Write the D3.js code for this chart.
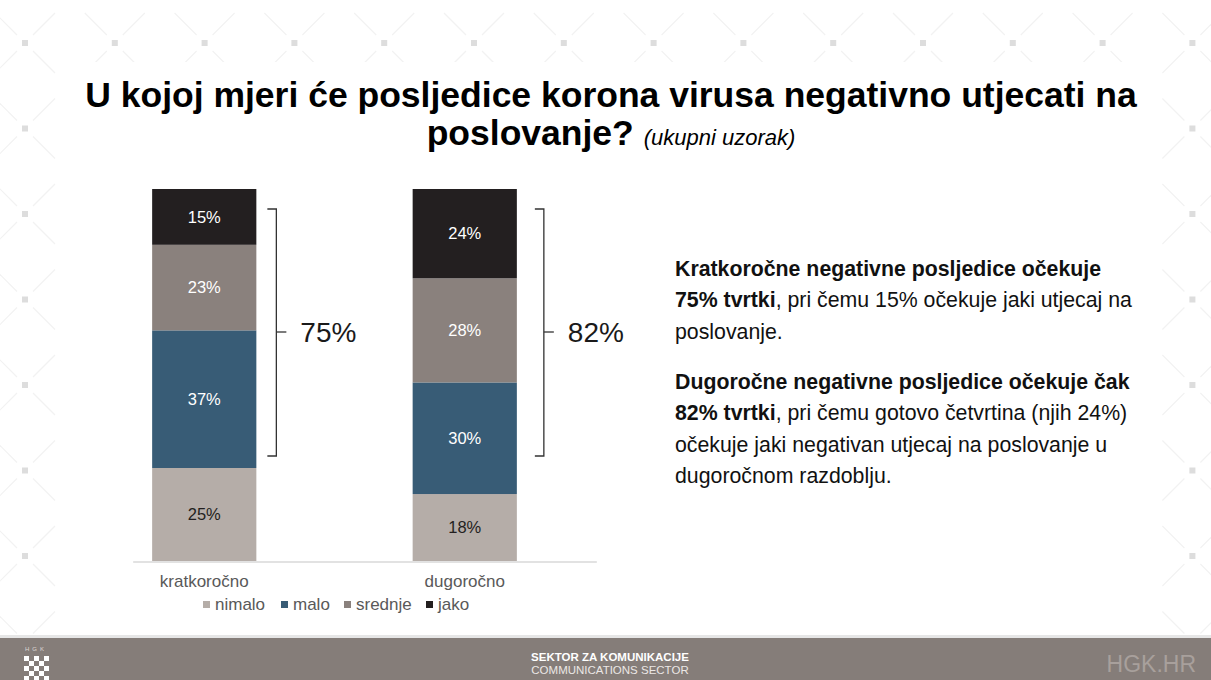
<!DOCTYPE html>
<html>
<head>
<meta charset="utf-8">
<script src="https://cdn.jsdelivr.net/npm/d3@7"></script>
<style>
  html, body { margin: 0; padding: 0; background: #ffffff; }
  svg { display: block; font-family: "Liberation Sans", Arial, sans-serif; }
</style>
</head>
<body>
<svg id="chart" width="1211" height="680"></svg>
<script>
// ---- data ----
const categories = ["kratkoročno", "dugoročno"];
const seriesNames = ["nimalo", "malo", "srednje", "jako"];
const nimalo = [25, 18];
const malo = [37, 30];
const srednje = [23, 28];
const jako = [15, 24];
const totalLabels = ["75%", "82%"];
const seriesColors = ["#b5ada8", "#385c76", "#8a817d", "#231f20"];
const labelColors = ["#231f20", "#ffffff", "#ffffff", "#ffffff"];

const titleLine1 = "U kojoj mjeri će posljedice korona virusa negativno utjecati na";
const titleLine2a = "poslovanje?";
const titleLine2b = "(ukupni uzorak)";

const svg = d3.select("#chart");
const W = 1211, H = 680;

// ---- background pattern ----
const bg = svg.append("g");
const gx = d3.range(0, 14).map(i => 25 + i * 89.8);
const gy = d3.range(0, 8).map(i => 43 + i * 85.5);
const pts = [];
gx.forEach(x => gy.forEach(y => {
  if (y < 60 || x < 60 || x > 1150) pts.push([x, y]);
}));
pts.forEach(([x, y]) => {
  [[1, 1], [1, -1], [-1, 1], [-1, -1]].forEach(([sx, sy]) => {
    bg.append("line")
      .attr("x1", x + sx * 8).attr("y1", y + sy * 8)
      .attr("x2", x + sx * 30).attr("y2", y + sy * 30)
      .attr("stroke", "#f2f2f2").attr("stroke-width", 1.2);
  });
  bg.append("rect").attr("x", x - 3).attr("y", y - 3).attr("width", 6).attr("height", 6)
    .attr("fill", "#dddddd");
});
bg.append("rect").attr("x", 60).attr("y", 62).attr("width", 1090).attr("height", 570).attr("fill", "#ffffff");

// ---- title ----
svg.append("text")
  .attr("x", 611).attr("y", 107)
  .attr("text-anchor", "middle")
  .attr("font-size", 35.5).attr("font-weight", "bold").attr("fill", "#000")
  .text(titleLine1);
const t2 = svg.append("text")
  .attr("x", 611).attr("y", 145)
  .attr("text-anchor", "middle").attr("fill", "#000");
t2.append("tspan").attr("font-size", 35.5).attr("font-weight", "bold").text(titleLine2a + " ");
t2.append("tspan").attr("font-size", 22).attr("font-style", "italic").text(titleLine2b);

// ---- scales ----
const x = d3.scaleBand().domain(categories).range([74, 595]).paddingInner(0.6).paddingOuter(0.3);
const y = d3.scaleLinear().domain([0, 100]).range([561, 189]);

const table = categories.map((c, i) => ({
  cat: c, nimalo: nimalo[i], malo: malo[i], srednje: srednje[i], jako: jako[i]
}));
const stack = d3.stack().keys(seriesNames)(table);

// baseline
svg.append("line")
  .attr("x1", x(categories[0]) - 19).attr("x2", x(categories[1]) + x.bandwidth() + 80)
  .attr("y1", y(0) + 1).attr("y2", y(0) + 1)
  .attr("stroke", "#d9d9d9").attr("stroke-width", 1.5);

const layers = svg.append("g").selectAll("g").data(stack).join("g")
  .attr("fill", (d, i) => seriesColors[i]);
layers.selectAll("rect").data(d => d).join("rect")
  .attr("x", d => x(d.data.cat))
  .attr("width", x.bandwidth())
  .attr("y", d => y(d[1]))
  .attr("height", d => y(d[0]) - y(d[1]));

// segment labels
stack.forEach((layer, li) => {
  svg.append("g").selectAll("text").data(layer).join("text")
    .attr("x", d => x(d.data.cat) + x.bandwidth() / 2)
    .attr("y", d => (y(d[0]) + y(d[1])) / 2)
    .attr("dy", "0.35em")
    .attr("text-anchor", "middle")
    .attr("font-size", 16.5)
    .attr("fill", labelColors[li])
    .text(d => (d[1] - d[0]) + "%");
});

// category labels
svg.append("g").selectAll("text").data(categories).join("text")
  .attr("x", d => x(d) + x.bandwidth() / 2)
  .attr("y", 587)
  .attr("text-anchor", "middle")
  .attr("font-size", 17).attr("fill", "#595959")
  .text(d => d);

// ---- brackets ----
const brackets = categories.map((c, i) => ({ cat: c, label: totalLabels[i] }));
brackets.forEach((b, i) => {
  const bx = x(b.cat) + x.bandwidth() + (i === 0 ? 20 : 27);
  const top = y(100) + 20, bot = 456, mid = 332;
  const g = svg.append("g");
  g.append("path")
    .attr("d", `M${bx - 9},${top} L${bx},${top} L${bx},${bot} L${bx - 9},${bot}`)
    .attr("fill", "none").attr("stroke", "#333").attr("stroke-width", 1.3);
  g.append("line").attr("x1", bx).attr("x2", bx + 10).attr("y1", mid).attr("y2", mid)
    .attr("stroke", "#333").attr("stroke-width", 1.3);
  g.append("text").attr("x", bx + 24).attr("y", mid).attr("dy", "0.35em")
    .attr("font-size", 28).attr("fill", "#1a1a1a").text(b.label);
});

// ---- legend ----
const legendX = [203, 281, 344, 426];
const lg = svg.append("g");
seriesNames.forEach((s, i) => {
  lg.append("rect").attr("x", legendX[i]).attr("y", 601).attr("width", 7).attr("height", 7)
    .attr("fill", seriesColors[i]);
  lg.append("text").attr("x", legendX[i] + 12).attr("y", 610)
    .attr("font-size", 17).attr("fill", "#595959").text(s);
});

// ---- right text ----
const para = [
  { y: 276, parts: [["Kratkoročne negativne posljedice očekuje", true]] },
  { y: 307, parts: [["75% tvrtki", true], [", pri čemu 15% očekuje jaki utjecaj na", false]] },
  { y: 339, parts: [["poslovanje.", false]] },
  { y: 389, parts: [["Dugoročne negativne posljedice očekuje čak", true]] },
  { y: 420, parts: [["82% tvrtki", true], [", pri čemu gotovo četvrtina (njih 24%)", false]] },
  { y: 452, parts: [["očekuje jaki negativan utjecaj na poslovanje u", false]] },
  { y: 483, parts: [["dugoročnom razdoblju.", false]] }
];
para.forEach(line => {
  const t = svg.append("text").attr("x", 675).attr("y", line.y)
    .attr("font-size", 21.3).attr("fill", "#111");
  line.parts.forEach(([s, b]) => {
    t.append("tspan").attr("font-weight", b ? "bold" : "normal").text(s);
  });
});

// ---- footer ----
svg.append("rect").attr("x", 0).attr("y", 635).attr("width", W).attr("height", 3).attr("fill", "#e6e6e6");
svg.append("rect").attr("x", 0).attr("y", 638).attr("width", W).attr("height", 42).attr("fill", "#857d79");
svg.append("text").attr("x", 610).attr("y", 661).attr("text-anchor", "middle")
  .attr("font-size", 11.5).attr("font-weight", "bold").attr("fill", "#ffffff")
  .text("SEKTOR ZA KOMUNIKACIJE");
svg.append("text").attr("x", 610).attr("y", 674).attr("text-anchor", "middle")
  .attr("font-size", 11.5).attr("fill", "#ebe7e5")
  .text("COMMUNICATIONS SECTOR");
svg.append("text").attr("x", 1196).attr("y", 672).attr("text-anchor", "end")
  .attr("font-size", 23).attr("fill", "#a8a09c")
  .text("HGK.HR");
// logo
const logo = svg.append("g");
logo.append("text").attr("x", 36).attr("y", 651).attr("text-anchor", "middle")
  .attr("font-size", 6).attr("fill", "#ddd8d5").attr("letter-spacing", 3).text("HGK");
for (let r = 0; r < 5; r++) {
  for (let c = 0; c < 5; c++) {
    if ((r + c) % 2 === 0) {
      logo.append("rect").attr("x", 24 + c * 5).attr("y", 656 + r * 5).attr("width", 5).attr("height", 5)
        .attr("fill", "#ffffff");
    }
  }
}
</script>
</body>
</html>
